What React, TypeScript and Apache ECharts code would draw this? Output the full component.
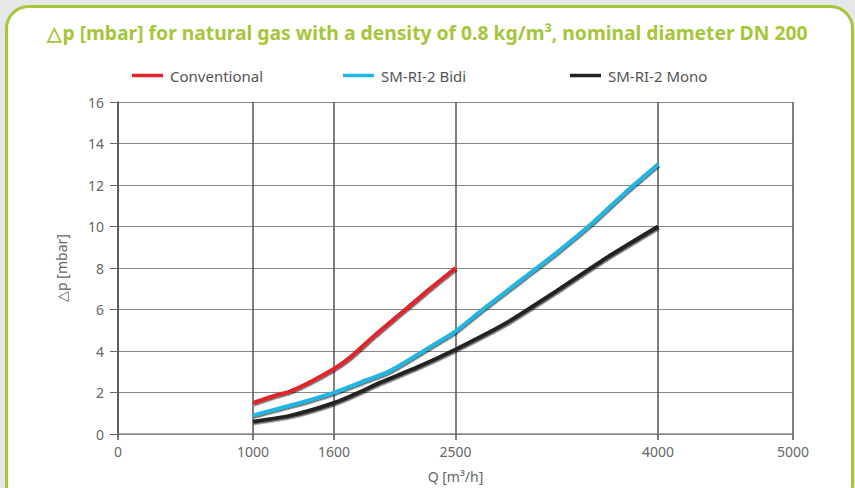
import React, { useEffect, useRef } from "react";
import * as echarts from "echarts";

const titleText = "△p [mbar] for natural gas with a density of 0.8 kg/m³, nominal diameter DN 200";
const xTicks = [0, 1000, 1600, 2500, 4000, 5000];

const convQ = [1000, 1160, 1270, 1420, 1600, 1720, 1900, 2100, 2300, 2500];
const convDp = [1.5, 1.85, 2.05, 2.5, 3.15, 3.7, 4.75, 5.85, 6.95, 8.0];

const bidiQ = [1000, 1200, 1400, 1600, 1800, 2000, 2200, 2400, 2500, 2700, 3000, 3250, 3500, 3750, 4000];
const bidiDp = [0.9, 1.25, 1.6, 2.0, 2.5, 3.0, 3.75, 4.55, 4.95, 6.0, 7.5, 8.75, 10.1, 11.6, 13.0];

const monoQ = [1000, 1270, 1600, 1800, 1940, 2210, 2500, 2880, 3250, 3620, 4000];
const monoDp = [0.6, 0.88, 1.5, 2.05, 2.48, 3.2, 4.08, 5.37, 6.9, 8.5, 10.0];

const seriesNames = ["Conventional", "SM-RI-2 Bidi", "SM-RI-2 Mono"];
const seriesColors = ["#e42229", "#1cb7e4", "#222222"];

const FONT = "Noto Sans";

export default function App() {
  const ref = useRef<HTMLDivElement>(null);
  useEffect(() => {
    if (!ref.current) return;
    const chart = echarts.init(ref.current, undefined, { renderer: "svg" });
    const pairs = (q: number[], d: number[]) => q.map((v, i) => [v, d[i]]);
    const datasets = [pairs(convQ, convDp), pairs(bidiQ, bidiDp), pairs(monoQ, monoDp)];
    const legendLefts = [127, 338, 565];
    chart.setOption({
      animation: false,
      backgroundColor: "#e6e7e8",
      textStyle: { fontFamily: FONT },
      graphic: [
        {
          type: "rect",
          shape: { x: 6.5, y: 6.5, width: 846, height: 500, r: 22 },
          style: { fill: "#ffffff", stroke: "#a5c63b", lineWidth: 3 },
          z: -10,
        },
      ],
      title: {
        text: titleText,
        left: "center",
        top: 18,
        textStyle: { color: "#a5c63b", fontSize: 19.3, fontWeight: "bold", fontFamily: FONT },
      },
      legend: seriesNames.map((n, i) => ({
        data: [n],
        left: legendLefts[i],
        top: 63,
        icon: "rect",
        itemWidth: 31,
        itemHeight: 3.5,
        itemGap: 10,
        textStyle: { color: "#555", fontSize: 15, fontFamily: FONT, padding: [0, 0, 0, 2] },
      })),
      grid: { left: 118, right: 62, top: 102, bottom: 49 },
      xAxis: {
        type: "value",
        min: 0,
        max: 5000,
        name: "Q [m³/h]",
        nameLocation: "middle",
        nameGap: 35,
        nameTextStyle: { color: "#666", fontSize: 14, fontFamily: FONT },
        axisLine: { lineStyle: { color: "#888", width: 1.5 } },
        axisTick: { show: true, length: 6, customValues: xTicks, lineStyle: { color: "#555", width: 1.5 } },
        axisLabel: {
          customValues: xTicks,
          color: "#666",
          fontSize: 14,
          margin: 10,
          fontFamily: FONT,
          formatter: (v: number) => String(v),
        },
        splitLine: { show: true, lineStyle: { color: "#555", width: 1.5 } },
      },
      yAxis: {
        type: "value",
        min: 0,
        max: 16,
        interval: 2,
        name: "△p [mbar]",
        nameLocation: "middle",
        nameGap: 50,
        nameRotate: 90,
        nameTextStyle: { color: "#666", fontSize: 14, fontFamily: FONT },
        axisLine: { show: true, lineStyle: { color: "#555", width: 1.5 } },
        axisTick: { show: true, length: 8, lineStyle: { color: "#666", width: 1 } },
        axisLabel: { color: "#666", fontSize: 14, margin: 14, fontFamily: FONT },
        splitLine: { show: true, lineStyle: { color: "#888", width: 1 } },
      },
      series: seriesNames.map((n, i) => ({
        name: n,
        type: "line",
        data: datasets[i],
        smooth: 0.2,
        showSymbol: false,
        color: seriesColors[i],
        lineStyle: {
          color: seriesColors[i],
          width: 3.8,
          shadowColor: "rgba(0,0,0,0.6)",
          shadowBlur: 1.5,
          shadowOffsetX: 0.8,
          shadowOffsetY: 1.5,
        },
      })),
    });
    return () => chart.dispose();
  }, []);
  return (
    <div
      ref={ref}
      style={{ position: "fixed", left: 0, top: 0, width: 855, height: 488 }}
    />
  );
}
